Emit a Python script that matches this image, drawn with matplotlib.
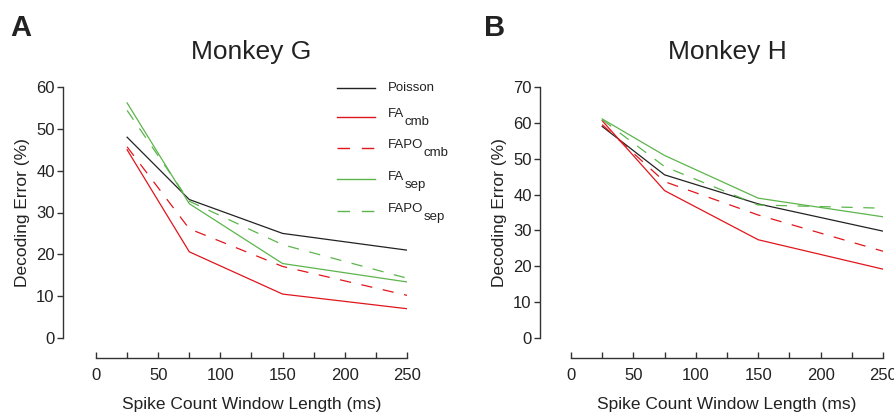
import matplotlib
matplotlib.use("Agg")
import matplotlib.pyplot as plt
from matplotlib.lines import Line2D

plt.rcParams['font.family'] = ['Liberation Sans', 'DejaVu Sans']

window_ms = [25, 75, 150, 250]

# Monkey G
g_poisson = [48.0, 33.1, 25.0, 21.0]
g_fa_cmb = [45.0, 20.6, 10.5, 7.0]
g_fapo_cmb = [45.7, 26.1, 17.1, 10.2]
g_fa_sep = [56.2, 32.1, 17.8, 13.4]
g_fapo_sep = [54.4, 32.7, 22.3, 14.3]

# Monkey H
h_poisson = [59.0, 45.5, 37.4, 29.8]
h_fa_cmb = [60.6, 41.1, 27.4, 19.2]
h_fapo_cmb = [59.5, 43.6, 34.3, 24.2]
h_fa_sep = [61.1, 50.9, 39.0, 33.8]
h_fapo_sep = [60.9, 47.8, 37.1, 36.2]

label_main = ['Poisson', 'FA', 'FAPO', 'FA', 'FAPO']
label_sub = ['', 'cmb', 'cmb', 'sep', 'sep']
xticks = [0, 50, 100, 150, 200, 250]

BLACK = '#222222'
RED = '#e0161c'
GREEN = '#5cb54c'
DASH = (9, 8.5)

W, H = 895, 412
fig = plt.figure(figsize=(W / 100, H / 100), dpi=100)


def make_ax(left_px, right_px, ymax, yticks, spine_off_px):
    ax = fig.add_axes([left_px / W, (H - 338) / H, (right_px - left_px) / W, (338 - 87) / H])
    ax.set_xlim(0, 250)
    ax.set_ylim(0, ymax)
    for s in ['top', 'right']:
        ax.spines[s].set_visible(False)
    ax.spines['left'].set_position(('outward', spine_off_px * 0.72))
    ax.spines['bottom'].set_position(('outward', 20 * 0.72))
    ax.spines['left'].set_bounds(0, ymax)
    ax.spines['bottom'].set_bounds(0, 250)
    for s in ['left', 'bottom']:
        ax.spines[s].set_linewidth(1.0)
        ax.spines[s].set_color('#333333')
    ax.set_xticks(xticks)
    ax.set_xticks([25, 75, 125, 175, 225], minor=True)
    ax.set_yticks(yticks)
    ax.tick_params(axis='x', which='both', direction='in', length=4, width=1,
                   color='#333333', labelsize=12, pad=7, labelcolor='#222222')
    ax.tick_params(axis='y', direction='out', length=4, width=1,
                   color='#333333', labelsize=12, pad=2, labelcolor='#222222')
    ax.set_xlabel('Spike Count Window Length (ms)', fontsize=12.5, color='#222222', labelpad=10)
    ax.set_ylabel('Decoding Error (%)', fontsize=12.5, color='#222222', labelpad=4)
    return ax


def draw(ax, series):
    styles = [(BLACK, None), (RED, None), (RED, DASH), (GREEN, None), (GREEN, DASH)]
    handles = []
    for vals, (c, d) in zip(series, styles):
        ln, = ax.plot(window_ms, vals, color=c, lw=0.9)
        if d is not None:
            ln.set_dashes(d)
        handles.append(ln)
    return handles


axA = make_ax(96, 407, 60, [0, 10, 20, 30, 40, 50, 60], 33)
hA = draw(axA, [g_poisson, g_fa_cmb, g_fapo_cmb, g_fa_sep, g_fapo_sep])
axA.set_title('Monkey G', fontsize=19, pad=20.5, color='#222222')

axB = make_ax(571, 883, 70, [0, 10, 20, 30, 40, 50, 60, 70], 31)
draw(axB, [h_poisson, h_fa_cmb, h_fapo_cmb, h_fa_sep, h_fapo_sep])
axB.set_title('Monkey H', fontsize=19, pad=20.5, color='#222222')

# Legend (manual, so that subscripts are full-size like the reference)
leg_line_y = [88, 117, 148, 179, 211]
renderer = fig.canvas.get_renderer()
for h, ly, main, sub in zip(hA, leg_line_y, label_main, label_sub):
    sample = Line2D([337 / W, 375 / W], [1 - ly / H, 1 - ly / H], transform=fig.transFigure,
                    color=h.get_color(), lw=1.0, linestyle=h.get_linestyle())
    if h.get_linestyle() not in ('-', 'solid'):
        sample.set_dashes(DASH)
    fig.add_artist(sample)
    if sub:
        t = fig.text(388 / W, 1 - (ly + 0.5) / H, main, fontsize=9.5, va='baseline',
                     ha='left', color='#222222')
        bb = t.get_window_extent(renderer)
        fig.text((bb.x1 + 0.5) / W, 1 - (ly + 8.5) / H, sub, fontsize=9.5, va='baseline',
                 ha='left', color='#222222')
    else:
        fig.text(388 / W, 1 - ly / H, main, fontsize=9.5, va='center', ha='left',
                 color='#222222')

fig.text(10 / W, 1 - 36 / H, 'A', fontsize=21, fontweight='bold', color='#222222')
fig.text(484 / W, 1 - 36 / H, 'B', fontsize=21, fontweight='bold', color='#222222')

fig.savefig('out.png', dpi=100)
